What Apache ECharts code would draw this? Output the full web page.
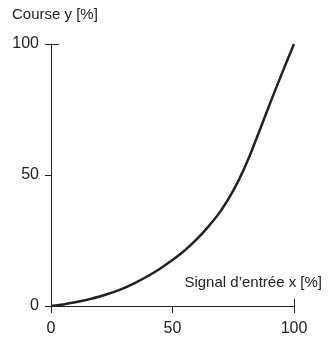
<!DOCTYPE html>
<html>
<head>
<meta charset="utf-8">
<script src="https://cdn.jsdelivr.net/npm/echarts@6/dist/echarts.min.js"></script>
<style>
html,body{margin:0;padding:0;background:#fff;}
#c{width:328px;height:338px;}
</style>
</head>
<body>
<div id="c"></div>
<script>
const xValues = [0, 5, 10, 15, 20, 25, 30, 35, 40, 45, 50, 55, 60, 65, 70, 75, 80, 85, 90, 95, 100];
const yValues = [0, 0.6, 1.4, 2.4, 3.6, 5.1, 6.8, 9, 11.5, 14.3, 17.6, 21.2, 25.5, 30.6, 36.5, 44, 53.5, 65, 77, 88.7, 100];
const yTitle = 'Course y [%]';
const xTitle = 'Signal d’entrée x [%]';

const FONT = '"Liberation Sans", Arial, sans-serif';
const INK = '#222';
const chart = echarts.init(document.getElementById('c'), null, {renderer: 'canvas'});
chart.setOption({
  animation: false,
  backgroundColor: '#fff',
  title: [
    {text: yTitle, left: 12, top: 7, padding: 0, textStyle: {fontFamily: FONT, fontSize: 15, fontWeight: 'normal', color: INK}},
    {text: xTitle, right: 6, top: 275, padding: 0, textStyle: {fontFamily: FONT, fontSize: 15, fontWeight: 'normal', color: INK}}
  ],
  grid: {left: 51, right: 34, top: 44, bottom: 32},
  xAxis: [
    {type: 'value', min: 0, max: 100, interval: 50,
     axisLine: {show: true, lineStyle: {color: INK, width: 1}},
     axisTick: {show: true, length: 7, lineStyle: {color: INK}},
     axisLabel: {fontFamily: FONT, fontSize: 16, color: INK, margin: 15},
     splitLine: {show: false}},
    {type: 'value', min: 0, max: 100, interval: 100, position: 'bottom',
     axisLine: {show: false},
     axisTick: {show: true, inside: true, length: 7, lineStyle: {color: INK}},
     axisLabel: {show: false}, splitLine: {show: false}}
  ],
  yAxis: [
    {type: 'value', min: 0, max: 100, interval: 50,
     axisLine: {show: true, lineStyle: {color: INK, width: 1}},
     axisTick: {show: true, length: 6, lineStyle: {color: INK}},
     axisLabel: {fontFamily: FONT, fontSize: 16, color: INK, margin: 12},
     splitLine: {show: false}},
    {type: 'value', min: 0, max: 100, interval: 100, position: 'left',
     axisLine: {show: false},
     axisTick: {show: true, inside: true, length: 8, lineStyle: {color: INK}},
     axisLabel: {show: false}, splitLine: {show: false}}
  ],
  series: [{
    type: 'line',
    xAxisIndex: 0, yAxisIndex: 0,
    data: xValues.map((x, i) => [x, yValues[i]]),
    smooth: 0.5,
    showSymbol: false,
    lineStyle: {color: INK, width: 2.5}
  }]
});
</script>
</body>
</html>
